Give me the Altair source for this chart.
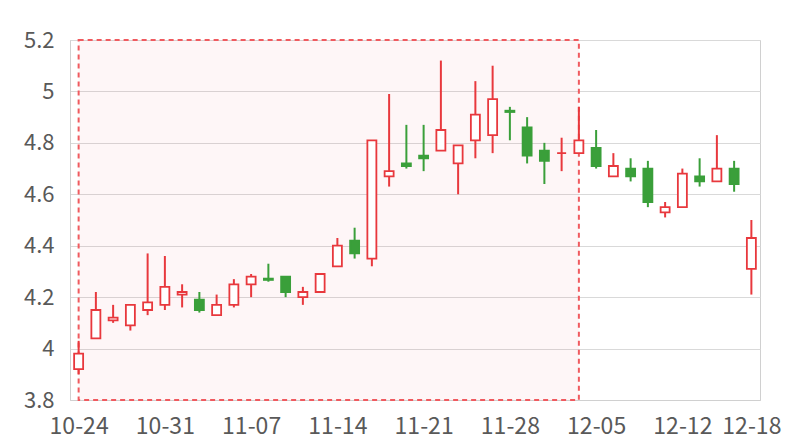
import altair as alt
import pandas as pd

dates = ["10-24", "10-25", "10-26", "10-27", "10-28", "10-31", "11-01", "11-02", "11-03", "11-04",
         "11-07", "11-08", "11-09", "11-10", "11-11", "11-14", "11-15", "11-16", "11-17", "11-18",
         "11-21", "11-22", "11-23", "11-24", "11-25", "11-28", "11-29", "11-30", "12-01", "12-02",
         "12-05", "12-06", "12-07", "12-08", "12-09", "12-12", "12-13", "12-14", "12-15", "12-18"]
open_ = [3.92, 4.04, 4.11, 4.09, 4.15, 4.17, 4.21, 4.19, 4.13, 4.17,
         4.25, 4.272, 4.28, 4.20, 4.22, 4.32, 4.42, 4.35, 4.67, 4.72,
         4.75, 4.77, 4.72, 4.81, 4.83, 4.925, 4.86, 4.77, 4.76, 4.76,
         4.78, 4.67, 4.70, 4.70, 4.53, 4.55, 4.67, 4.65, 4.70, 4.31]
close = [3.98, 4.15, 4.12, 4.17, 4.18, 4.24, 4.22, 4.15, 4.17, 4.25,
         4.28, 4.267, 4.22, 4.22, 4.29, 4.40, 4.37, 4.81, 4.69, 4.71,
         4.74, 4.85, 4.79, 4.91, 4.97, 4.92, 4.75, 4.73, 4.76, 4.81,
         4.71, 4.71, 4.67, 4.57, 4.55, 4.68, 4.65, 4.70, 4.64, 4.43]
high = [4.03, 4.22, 4.17, 4.17, 4.37, 4.36, 4.25, 4.22, 4.21, 4.27,
        4.29, 4.33, 4.28, 4.24, 4.29, 4.43, 4.47, 4.81, 4.99, 4.87,
        4.87, 5.12, 4.79, 5.04, 5.10, 4.94, 4.90, 4.80, 4.82, 4.94,
        4.85, 4.76, 4.74, 4.73, 4.57, 4.70, 4.74, 4.83, 4.73, 4.50]
low = [3.90, 4.04, 4.10, 4.07, 4.13, 4.15, 4.16, 4.14, 4.13, 4.16,
       4.20, 4.26, 4.20, 4.17, 4.22, 4.32, 4.35, 4.32, 4.63, 4.70,
       4.69, 4.77, 4.60, 4.74, 4.76, 4.81, 4.72, 4.64, 4.69, 4.76,
       4.70, 4.67, 4.65, 4.55, 4.51, 4.55, 4.63, 4.65, 4.61, 4.21]

y_ticks = [3.8, 4.0, 4.2, 4.4, 4.6, 4.8, 5.0, 5.2]
x_tick_idx = [0, 5, 10, 15, 20, 25, 30, 35, 39]
shade_start, shade_end = "10-24", "12-02"

RED = "#e8383d"
GREEN = "#3a9f3a"
FONT = "Noto Sans CJK SC"

df = pd.DataFrame({"idx": list(range(len(dates))), "date": dates,
                   "open": open_, "close": close, "high": high, "low": low})
shade = pd.DataFrame({"x0": [dates.index(shade_start)], "x1": [dates.index(shade_end)],
                      "y0": [y_ticks[0]], "y1": [y_ticks[-1]]})

label_js = "[" + ",".join('"%s"' % d for d in dates) + "][datum.value]"

xscale = alt.Scale(domain=[-0.5, len(dates) - 0.5], nice=False, zero=False, padding=0)
yscale = alt.Scale(domain=[y_ticks[0], y_ticks[-1]], nice=False, zero=False, padding=0)

xaxis = alt.Axis(values=x_tick_idx, labelExpr=label_js, grid=False, ticks=False,
                 labelFlush=False, labelOverlap=False,
                 domainColor="#d0d0d0", labelFontSize=23, labelFont=FONT,
                 labelColor="#595959", labelPadding=15, labelBaseline="top", title=None)
yaxis = alt.Axis(values=y_ticks, format=".2~f", grid=True, gridColor="#d9d9d9",
                 labelFlush=False, labelOverlap=False,
                 ticks=False, domainColor="#d0d0d0", labelFontSize=22, labelFont=FONT,
                 labelColor="#595959", labelPadding=16, title=None)

area = alt.Chart(shade).mark_rect(
    fill=RED, fillOpacity=0.045, stroke="#f05a5f", strokeWidth=2, strokeDash=[5, 4]
).encode(
    x=alt.X("x0:Q", scale=xscale, axis=xaxis), x2="x1:Q",
    y=alt.Y("y0:Q", scale=yscale, axis=yaxis), y2="y1:Q",
)

is_up = "datum.close >= datum.open"
base = alt.Chart(df).encode(x=alt.X("idx:Q", scale=xscale, axis=xaxis))

wick = base.mark_rule(strokeWidth=2).encode(
    y=alt.Y("low:Q", scale=yscale, axis=yaxis), y2="high:Q",
    color=alt.condition(is_up, alt.value(RED), alt.value(GREEN)),
)
body = base.mark_bar(size=9, strokeWidth=1.8).encode(
    y=alt.Y("open:Q", scale=yscale, axis=yaxis), y2="close:Q",
    fill=alt.condition(is_up, alt.value("#ffffff"), alt.value(GREEN)),
    stroke=alt.condition(is_up, alt.value(RED), alt.value(GREEN)),
)

chart = alt.layer(area, wick, body).properties(
    width=690, height=360,
    autosize=alt.AutoSizeParams(type="none"),
    padding={"left": 62, "top": 32, "right": 32, "bottom": 40},
).configure_view(stroke="#d0d0d0", strokeWidth=1)

chart.save("out.html", embed_options={"renderer": "svg", "actions": False})
